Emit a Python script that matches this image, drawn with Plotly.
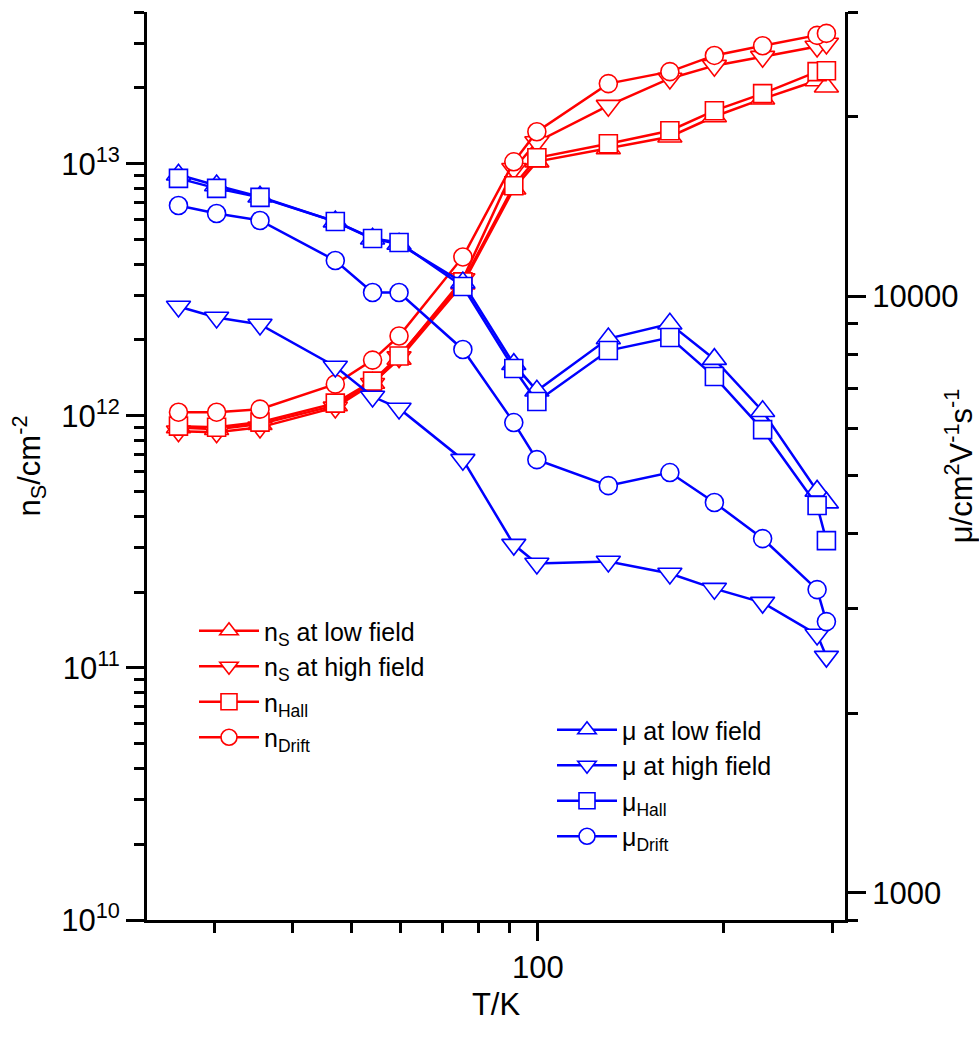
import numpy as np
import plotly.graph_objects as go

# Temperature (K)
T = [26.2, 30.2, 35.5, 47.0, 54.0, 59.6, 75.6, 91.4, 99.6, 130.0, 163.5, 193.0, 231.0, 283.0, 293.0]

# Sheet carrier density (cm^-2), left axis
n_low = [9.0e11, 8.85e11, 9.27e11, 1.10e12, 1.35e12, 1.68e12, 3.34e12, 7.96e12, 1.02e13,
         1.15e13, 1.28e13, 1.54e13, 1.81e13, 2.14e13, 2.02e13]
n_high = [8.69e11, 8.61e11, 9.0e11, 1.08e12, 1.34e12, 1.71e12, 3.49e12, 9.55e12, 1.22e13,
          1.70e13, 2.18e13, 2.45e13, 2.66e13, 2.92e13, 3.0e13]
n_hall = [9.10e11, 9.01e11, 9.44e11, 1.123e12, 1.373e12, 1.727e12, 3.40e12, 8.18e12, 1.056e13,
          1.20e13, 1.352e13, 1.624e13, 1.897e13, 2.32e13, 2.34e13]
n_drift = [1.034e12, 1.034e12, 1.063e12, 1.336e12, 1.664e12, 2.073e12, 4.27e12, 1.018e13, 1.34e13,
           2.08e13, 2.32e13, 2.69e13, 2.94e13, 3.23e13, 3.29e13]

# Mobility (cm^2/Vs), right axis
mu_low = [16000, 15350, 14700, 13350, 12500, 12250, 10550, 7700, 6950, 8500, 9000, 7850, 6420, 4720, 4510]
mu_high = [9620, 9220, 8975, 7630, 6795, 6490, 5325, 3836, 3565, 3593, 3430, 3236, 3066, 2710, 2489]
mu_hall = [15780, 15180, 14660, 13360, 12510, 12320, 10390, 7570, 6665, 8115, 8535, 7340, 5980, 4460, 3895]
mu_drift = [14210, 13780, 13410, 11490, 10155, 10155, 8150, 6145, 5325, 4816, 5066, 4513, 3926, 3224, 2849]

RED = "#ff0000"
BLUE = "#0000ff"
FONT = "Liberation Sans"

fig = go.Figure()

red_series = [
    ("n<sub>S</sub> at low field", n_low, "triangle-up"),
    ("n<sub>S</sub> at high field", n_high, "triangle-down"),
    ("n<sub>Hall</sub>", n_hall, "square"),
    ("n<sub>Drift</sub>", n_drift, "circle"),
]
blue_series = [
    ("\u03bc at low field", mu_low, "triangle-up"),
    ("\u03bc at high field", mu_high, "triangle-down"),
    ("\u03bc<sub>Hall</sub>", mu_hall, "square"),
    ("\u03bc<sub>Drift</sub>", mu_drift, "circle"),
]

for name, vals, s in red_series:
    fig.add_trace(go.Scatter(
        x=T, y=vals, name=name, mode="lines+markers", yaxis="y", legend="legend",
        line=dict(color=RED, width=2.5),
        marker=dict(symbol=s, size=21 if "triangle" in s else 18, color="white",
                    line=dict(color=RED, width=1.6)),
    ))

for name, vals, s in blue_series:
    fig.add_trace(go.Scatter(
        x=T, y=vals, name=name, mode="lines+markers", yaxis="y2", legend="legend2",
        line=dict(color=BLUE, width=2.5),
        marker=dict(symbol=s, size=21 if "triangle" in s else 18, color="white",
                    line=dict(color=BLUE, width=1.6)),
    ))

x_minor = [30, 40, 50, 60, 70, 80, 90, 200, 300]
y_major = [1e10, 1e11, 1e12, 1e13]
y_major_text = ["10<sup>10</sup>", "10<sup>11</sup>", "10<sup>12</sup>", "10<sup>13</sup>"]
y_minor = [m * 10.0 ** e for e in (10, 11, 12) for m in range(2, 10)] + [2e13, 3e13, 4e13]
y2_major = [1000, 10000]
y2_major_text = ["1000", "10000"]
y2_minor = [900] + [m * 1000 for m in range(2, 10)] + [20000, 30000]

axis_common = dict(
    showline=True, linecolor="black", linewidth=3,
    ticks="outside", ticklen=18, tickwidth=3, tickcolor="black",
    showgrid=False, zeroline=False, automargin=False,
    tickfont=dict(family=FONT, size=31, color="black"),
)

fig.update_layout(
    width=979, height=1042,
    margin=dict(l=147, r=134, t=12, b=122, autoexpand=False),
    paper_bgcolor="white", plot_bgcolor="white",
    font=dict(family=FONT, size=30, color="black"),
    xaxis=dict(
        type="log", range=[np.log10(23.3), np.log10(314)],
        tickmode="array", tickvals=[100], ticktext=["100"],
        minor=dict(tickmode="array", tickvals=x_minor, ticks="outside", ticklen=10,
                   tickwidth=3, tickcolor="black", showgrid=False),
        title=dict(text="T/K", font=dict(family=FONT, size=31), standoff=10),
        **axis_common,
    ),
    yaxis=dict(
        type="log", range=[10, np.log10(4e13)],
        tickmode="array", tickvals=y_major, ticktext=y_major_text,
        minor=dict(tickmode="array", tickvals=y_minor, ticks="outside", ticklen=10,
                   tickwidth=3, tickcolor="black", showgrid=False),
        title=dict(text="n<sub>S</sub>/cm<sup>-2</sup>", font=dict(family=FONT, size=31), standoff=12),
        **axis_common,
    ),
    yaxis2=dict(
        type="log", overlaying="y", side="right",
        range=[np.log10(900), np.log10(30000)],
        tickmode="array", tickvals=y2_major, ticktext=y2_major_text,
        minor=dict(tickmode="array", tickvals=y2_minor, ticks="outside", ticklen=10,
                   tickwidth=3, tickcolor="black", showgrid=False),
        title=dict(text="\u03bc/cm<sup>2</sup>V<sup>-1</sup>s<sup>-1</sup>", font=dict(family=FONT, size=31), standoff=12),
        **axis_common,
    ),
    legend=dict(
        x=(194 - 147) / 698, y=(920 - 608) / 908, xanchor="left", yanchor="top",
        bgcolor="rgba(0,0,0,0)", font=dict(family=FONT, size=25, color="black"),
        itemwidth=60, tracegroupgap=0,
    ),
    legend2=dict(
        x=(552 - 147) / 698, y=(920 - 707) / 908, xanchor="left", yanchor="top",
        bgcolor="rgba(0,0,0,0)", font=dict(family=FONT, size=25, color="black"),
        itemwidth=60, tracegroupgap=0,
    ),
)

fig.write_html("out.html")
